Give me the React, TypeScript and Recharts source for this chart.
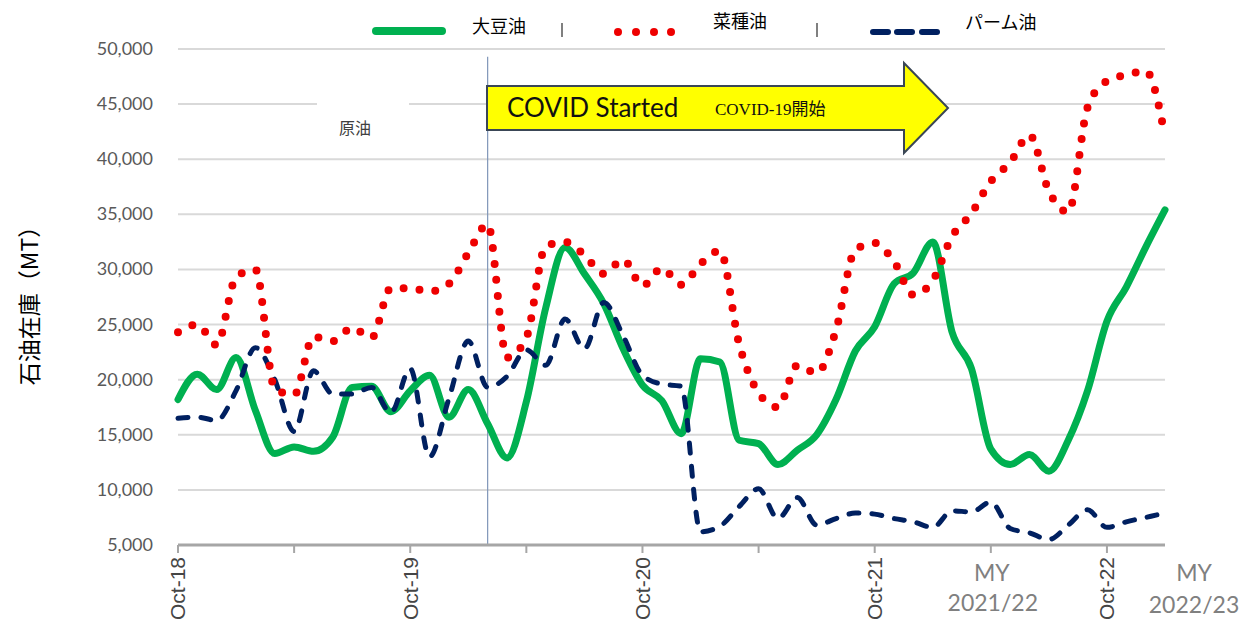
import React from 'react';
import { LineChart, Line, XAxis, YAxis, CartesianGrid, ReferenceLine } from 'recharts';

// months since Oct-2018
const months = [
  0, 1, 2, 3, 4, 5, 6, 7, 8, 9, 10, 11, 12, 13, 14, 15, 16, 17, 18, 19, 20, 21, 22, 23, 24, 25,
  26, 27, 28, 29, 30, 31, 32, 33, 34, 35, 36, 37, 38, 39, 40, 41, 42, 43, 44, 45, 46, 47, 48, 49, 50, 51,
];

// 大豆油
const soybean = [
  18200, 20500, 19100, 22000, 17200, 13300, 13900, 13500, 14800, 19300,
  19400, 17100, 19000, 20400, 16600, 19100, 16000, 12900, 18000, 26500,
  32000, 29600, 26900, 22800, 19500, 18100, 15100, 21900, 21600, 14500,
  14200, 12300, 13600, 15000, 18200, 22600, 24800, 28700, 29700, 32500,
  24300, 21000, 13700, 12300, 13200, 11700, 14500, 19000, 25300, 28400, 32000, 35400,
];

// 菜種油
const rapeseed = [
  24300, 25000, 23150, 29300, 30000, 19200, 18600, 23900, 23500, 24700,
  23800, 28300, 28300, 28000, 28700, 31500, 34100, 22000, 23800, 32100,
  32500, 31300, 29600, 30900, 28500, 30100, 28600, 30500, 31700, 23200,
  18800, 17500, 21300, 20600, 24500, 31800, 32400, 30700, 27700, 29000,
  33000, 35100, 38000, 39700, 42200, 37100, 35200, 44700, 47100, 47650, 48000, 42100,
];

// パーム油
const palm = [
  16500, 16600, 16300, 19000, 22900, 20000, 15300, 20800, 18700, 18700,
  19300, 17000, 21000, 13000, 18300, 23500, 19300, 20300, 22700, 21300,
  25500, 22800, 27000, 24000, 20400, 19600, 19400, 6200, 6700, 8500,
  10100, 7400, 9300, 6800, 7400, 7900, 7800, 7400, 7100, 6600,
  8100, 8000, 8900, 6500, 6100, 5500, 6800, 8200, 6600, 7100, 7500, 7900,
];

const seriesNames = ['大豆油', '菜種油', 'パーム油'];
const yTicks = [5000, 10000, 15000, 20000, 25000, 30000, 35000, 40000, 45000, 50000];
const xTicks = [0, 6, 12, 18, 24, 30, 36, 42, 48];
const octTickMonths = [0, 12, 24, 36, 48];
const octLabels = ['Oct-18', 'Oct-19', 'Oct-20', 'Oct-21', 'Oct-22'];
const myTickMonth = 42;
const myLabel = ['MY', '2021/22'];
const myLabelNext = ['MY', '2022/23'];
const covidMonth = 16;
const yTitle = '石油在庫（MT）';
const crudeLabel = '原油';
const covidEn = 'COVID Started';
const covidJa = 'COVID-19開始';

const data = months.map((m, i) => ({
  m,
  soy: soybean[i],
  rape: rapeseed[i],
  palm: palm[i],
}));

const GREEN = '#00b050';
const RED = '#ee0000';
const NAVY = '#002060';

const YTick = (props: any) => {
  const { x, y, payload } = props;
  return (
    <text x={x} y={y} dy={6} textAnchor="end" fill="#595959" fontSize={18} fontFamily="Lato, 'Open Sans', sans-serif">
      {Number(payload.value).toLocaleString('en-US')}
    </text>
  );
};

const XTick = (props: any) => {
  const { x, y, payload } = props;
  const v = payload.value;
  const oi = octTickMonths.indexOf(v);
  if (oi >= 0) {
    return (
      <text
        transform={`translate(${x},${y + 2}) rotate(-90)`}
        textAnchor="end"
        dy="0.35em"
        fontSize={21}
        fill="#454545"
        fontFamily="'Liberation Sans', Arial, sans-serif"
      >
        {octLabels[oi]}
      </text>
    );
  }
  if (v === myTickMonth) {
    return (
      <g>
        <text x={x + 1} y={y + 26} textAnchor="middle" fontSize={23} fill="#808080" fontFamily="Lato, sans-serif">
          {myLabel[0]}
        </text>
        <text x={x + 2} y={y + 56} textAnchor="middle" fontSize={23} fill="#808080" fontFamily="Lato, sans-serif">
          {myLabel[1]}
        </text>
      </g>
    );
  }
  return <g />;
};

const Overlay = () => (
  <svg width={1244} height={627} style={{ position: 'absolute', left: 0, top: 0, pointerEvents: 'none' }}>
    {/* legend */}
    <line x1={376} y1={31} x2={442} y2={31} stroke={GREEN} strokeWidth={8} strokeLinecap="round" />
    <text x={472} y={33} fontSize={18} fontWeight={400} fill="#000" fontFamily="'Noto Sans CJK JP', sans-serif">
      {seriesNames[0]}
    </text>
    <line x1={562} y1={23} x2={562} y2={37} stroke="#808080" strokeWidth={2} />
    {[618, 636, 654, 671].map((cx) => (
      <circle key={cx} cx={cx} cy={32} r={4} fill={RED} />
    ))}
    <text x={713} y={28} fontSize={18} fontWeight={400} fill="#000" fontFamily="'Noto Sans CJK JP', sans-serif">
      {seriesNames[1]}
    </text>
    <line x1={817} y1={23} x2={817} y2={37} stroke="#808080" strokeWidth={2} />
    {[873, 897, 922].map((sx) => (
      <line key={sx} x1={sx} y1={32} x2={sx + 15} y2={32} stroke={NAVY} strokeWidth={6} strokeLinecap="round" />
    ))}
    <text x={965} y={29} fontSize={18} fontWeight={400} fill="#000" fontFamily="'Noto Sans CJK JP', sans-serif">
      {seriesNames[2]}
    </text>

    {/* crude oil label */}
    <rect x={317} y={97} width={92} height={52} fill="#fff" />
    <text x={355} y={134} textAnchor="middle" fontSize={16} fill="#404040" fontFamily="'Noto Sans CJK JP', sans-serif">
      {crudeLabel}
    </text>

    {/* COVID arrow */}
    <polygon
      points="487,86 904,86 904,63 948,108 904,153 904,130 487,130"
      fill="#ffff00"
      stroke="#3a4656"
      strokeWidth={2}
    />
    <text x={507} y={117} fontSize={26} fill="#111" fontFamily="Lato, 'Open Sans', sans-serif">
      {covidEn}
    </text>
    <text x={715} y={115} fontSize={17} fill="#111" fontFamily="'Liberation Serif', 'Noto Sans CJK JP', serif">
      {covidJa}
    </text>

    {/* y title */}
    <text
      transform="translate(30,300) rotate(-90)"
      textAnchor="middle"
      dy="0.35em"
      fontSize={23}
      fill="#000"
      fontFamily="'Noto Sans CJK JP', sans-serif"
    >
      {yTitle}
    </text>

    {/* next MY label */}
    <text x={1194} y={581} textAnchor="middle" fontSize={23} fill="#808080" fontFamily="Lato, sans-serif">
      {myLabelNext[0]}
    </text>
    <text x={1194} y={613} textAnchor="middle" fontSize={23} fill="#808080" fontFamily="Lato, sans-serif">
      {myLabelNext[1]}
    </text>
  </svg>
);

export default function App() {
  return (
    <div style={{ position: 'absolute', left: 0, top: 0, width: 1244, height: 627, background: '#fff' }}>
      <LineChart width={1244} height={627} data={data} margin={{ top: 49, right: 79, bottom: 0, left: 0 }}>
        <CartesianGrid horizontal vertical={false} stroke="#d9d9d9" strokeWidth={2} />
        <XAxis
          dataKey="m"
          type="number"
          domain={[0, 51]}
          ticks={xTicks}
          interval={0}
          height={82}
          tickSize={8}
          tickMargin={2}
          axisLine={{ stroke: '#a6a6a6', strokeWidth: 3 }}
          tickLine={{ stroke: '#a6a6a6', strokeWidth: 2 }}
          tick={<XTick />}
        />
        <YAxis
          type="number"
          domain={[5000, 50000]}
          ticks={yTicks}
          interval={0}
          width={178}
          tickSize={0}
          tickMargin={25}
          axisLine={false}
          tickLine={false}
          tick={<YTick />}
        />
        <ReferenceLine
          segment={[
            { x: covidMonth, y: 49300 },
            { x: covidMonth, y: 5000 },
          ]}
          stroke="#7f96b8"
          strokeWidth={1.2}
        />
        <Line
          type="monotone"
          dataKey="soy"
          stroke={GREEN}
          strokeWidth={7}
          strokeLinecap="round"
          strokeLinejoin="round"
          dot={false}
          activeDot={false}
          isAnimationActive={false}
        />
        <Line
          type="monotone"
          dataKey="palm"
          stroke={NAVY}
          strokeWidth={5}
          strokeDasharray="10 13"
          strokeLinecap="round"
          dot={false}
          activeDot={false}
          isAnimationActive={false}
        />
        <Line
          type="monotone"
          dataKey="rape"
          stroke={RED}
          strokeWidth={8}
          strokeDasharray="0 16"
          strokeLinecap="round"
          dot={false}
          activeDot={false}
          isAnimationActive={false}
        />
      </LineChart>
      <Overlay />
    </div>
  );
}
